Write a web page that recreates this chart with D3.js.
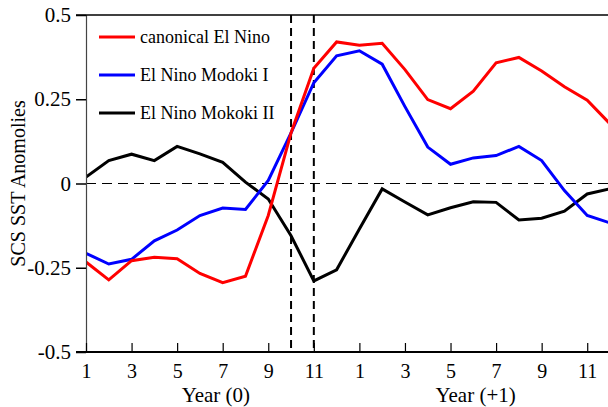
<!DOCTYPE html>
<html>
<head>
<meta charset="utf-8">
<script src="https://cdn.jsdelivr.net/npm/d3@7"></script>
<style>
    body { margin: 0; background: #fff; }
    text { font-family: "Liberation Serif", "Times New Roman", serif; fill: #000; }
</style>
</head>
<body>
<div id="chart"></div>
<script>
// months run 1..24 (Year 0 Jan .. Year +1 Dec)
const months = d3.range(1, 25);
const canonical = [-0.233, -0.286, -0.229, -0.219, -0.223, -0.267, -0.294, -0.275, -0.095, 0.150,
    0.342, 0.420, 0.410, 0.416, 0.338, 0.249, 0.222, 0.274, 0.358, 0.374, 0.334, 0.287, 0.247, 0.177];
const modokiI = [-0.207, -0.239, -0.225, -0.170, -0.138, -0.095, -0.073, -0.077, 0.009, 0.150,
    0.299, 0.379, 0.394, 0.354, 0.228, 0.108, 0.057, 0.076, 0.083, 0.110, 0.068, -0.021, -0.095, -0.117];
const modokiII = [0.019, 0.068, 0.087, 0.068, 0.110, 0.088, 0.063, 0.004, -0.046, -0.155,
    -0.289, -0.256, -0.135, -0.016, -0.055, -0.093, -0.072, -0.054, -0.056, -0.108, -0.103, -0.082, -0.031, -0.016];
const seriesNames = ['canonical El Nino', 'El Nino Modoki I', 'El Nino Mokoki II'];
const seriesColors = ['#ff0000', '#0000ff', '#000000'];
const xTicks = [1, 3, 5, 7, 9, 11, 13, 15, 17, 19, 21, 23];
const xTickLabels = ['1', '3', '5', '7', '9', '11', '1', '3', '5', '7', '9', '11'];
const yTicks = [0.5, 0.25, 0, -0.25, -0.5];
const yTickLabels = ['0.5', '0.25', '0', '-0.25', '-0.5'];
const markerMonths = [10, 11];

const width = 608, height = 407;
const svg = d3.select('#chart').append('svg')
    .attr('width', width)
    .attr('height', height);

const x = d3.scaleLinear().domain([1, 24]).range([86, 610]);
const y = d3.scaleLinear().domain([-0.5, 0.5]).range([352, 15]);

// plot clip so lines stop at the frame
svg.append('clipPath').attr('id', 'plotClip')
    .append('rect')
    .attr('x', 86).attr('y', 15)
    .attr('width', width - 86).attr('height', 337);

// zero line
svg.append('line')
    .attr('x1', x(1)).attr('x2', width)
    .attr('y1', y(0)).attr('y2', y(0))
    .attr('stroke', '#000')
    .attr('stroke-width', 1)
    .attr('stroke-dasharray', '10,6');

// vertical markers
svg.selectAll('.marker')
    .data(markerMonths)
    .enter()
    .append('line')
    .attr('class', 'marker')
    .attr('x1', d => x(d)).attr('x2', d => x(d))
    .attr('y1', y(0.5)).attr('y2', y(-0.5))
    .attr('stroke', '#000')
    .attr('stroke-width', 2)
    .attr('stroke-dasharray', '8,5');

// series
const allSeries = [canonical, modokiI, modokiII];
const line = d3.line()
    .x((d, i) => x(months[i]))
    .y(d => y(d));
const plot = svg.append('g').attr('clip-path', 'url(#plotClip)');
[2, 1, 0].forEach(k => {
    plot.append('path')
        .datum(allSeries[k])
        .attr('d', line)
        .attr('fill', 'none')
        .attr('stroke', seriesColors[k])
        .attr('stroke-width', 3)
        .attr('stroke-linejoin', 'miter');
});

// y axis
const yAxis = d3.axisLeft(y)
    .tickValues(yTicks)
    .tickSize(10)
    .tickPadding(5)
    .tickFormat((d, i) => yTickLabels[i]);
const gy = svg.append('g')
    .attr('transform', `translate(${x(1)},0)`)
    .call(yAxis);
gy.select('.domain').attr('stroke', '#444').attr('stroke-width', 1.2);
gy.selectAll('.tick line').attr('stroke', '#000').attr('stroke-width', 1.5);
gy.selectAll('.tick text')
    .style('font-family', '"Liberation Serif", serif')
    .style('font-size', '21px');

// x axis (ticks point inward)
const xAxis = d3.axisBottom(x)
    .tickValues(xTicks)
    .tickSize(-9)
    .tickPadding(12)
    .tickFormat((d, i) => xTickLabels[i]);
const gx = svg.append('g')
    .attr('transform', `translate(0,${y(-0.5)})`)
    .call(xAxis);
gx.select('.domain').remove();
gx.append('line')
    .attr('x1', 76).attr('x2', width)
    .attr('y1', 0).attr('y2', 0)
    .attr('stroke', '#000').attr('stroke-width', 2);
gx.selectAll('.tick line').attr('stroke', '#000').attr('stroke-width', 1.2);
gx.selectAll('.tick text')
    .style('font-family', '"Liberation Serif", serif')
    .style('font-size', '20px');

// top frame
svg.append('line')
    .attr('x1', 76).attr('x2', width)
    .attr('y1', y(0.5)).attr('y2', y(0.5))
    .attr('stroke', '#000').attr('stroke-width', 1.5);

// axis titles
svg.append('text')
    .text('Year (0)')
    .attr('x', x(6.7))
    .attr('y', 402)
    .attr('text-anchor', 'middle')
    .style('font-size', '21px');
svg.append('text')
    .text('Year (+1)')
    .attr('x', x(18.1))
    .attr('y', 402)
    .attr('text-anchor', 'middle')
    .style('font-size', '21px');
svg.append('text')
    .text('SCS SST Anomolies')
    .attr('transform', `translate(25,${y(0)}) rotate(-90)`)
    .attr('text-anchor', 'middle')
    .style('font-size', '20px');

// legend
const legend = svg.append('g');
seriesNames.forEach((name, i) => {
    const ly = 37 + i * 38;
    legend.append('line')
        .attr('x1', 99).attr('x2', 135)
        .attr('y1', ly).attr('y2', ly)
        .attr('stroke', seriesColors[i])
        .attr('stroke-width', 3);
    legend.append('text')
        .text(name)
        .attr('x', 140)
        .attr('y', ly + 6)
        .style('font-size', '18px');
});
</script>
</body>
</html>
